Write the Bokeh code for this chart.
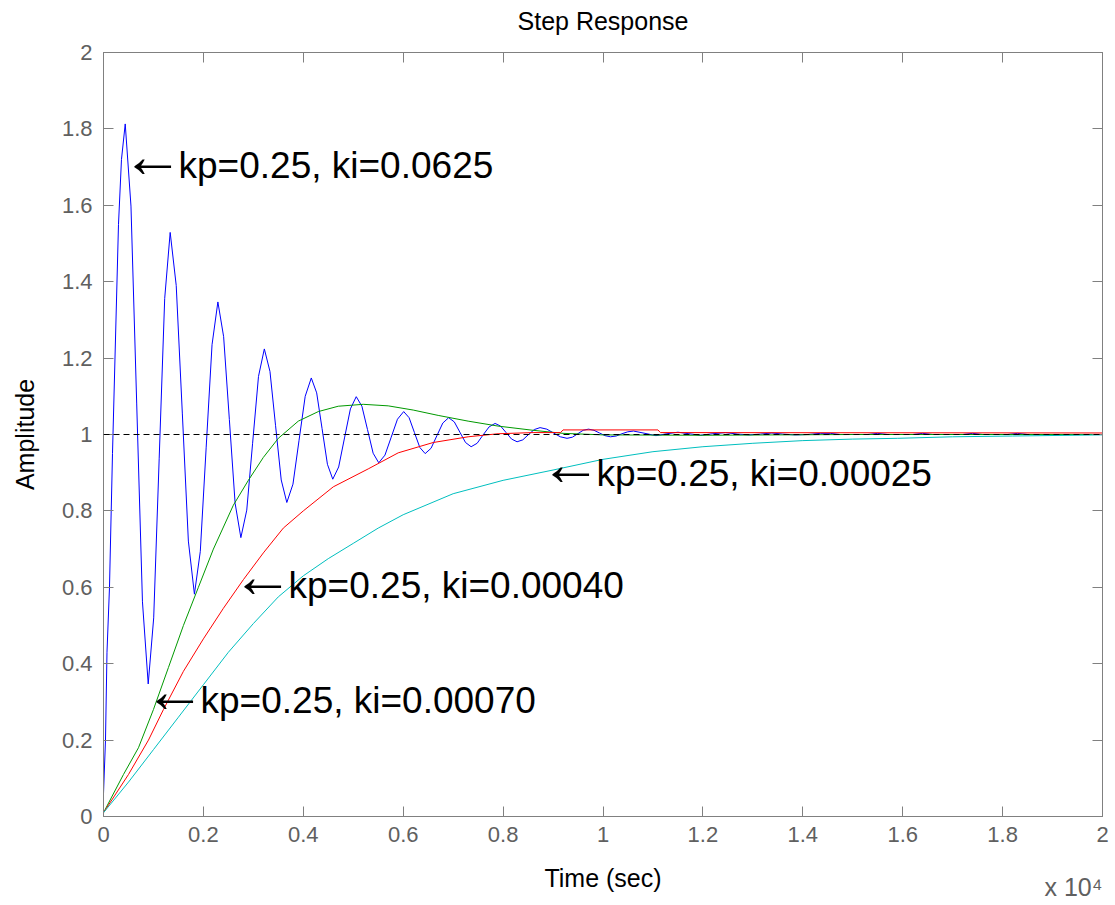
from bokeh.plotting import figure
from bokeh.models import Range1d, FixedTicker, LinearAxis, Span, CustomJSTickFormatter, Title
from bokeh.core.properties import value
from bokeh.embed import file_html
from bokeh.resources import INLINE

# ---- data (time in units of 1e4 s) ----
x_ticks = [0, 0.2, 0.4, 0.6, 0.8, 1.0, 1.2, 1.4, 1.6, 1.8, 2.0]
y_ticks = [0, 0.2, 0.4, 0.6, 0.8, 1.0, 1.2, 1.4, 1.6, 1.8, 2.0]

# kp=0.25, ki=0.0625 (blue)
blue_t = [0.000, 0.004, 0.007, 0.012, 0.018, 0.024, 0.030, 0.036, 0.0435,
          0.055, 0.0665, 0.078, 0.0895,
          0.1005, 0.1115, 0.1225, 0.1335,
          0.1456, 0.1578, 0.1699, 0.182,
          0.1938, 0.2055, 0.2173, 0.229,
          0.2405, 0.252, 0.2635, 0.275,
          0.2868, 0.2985, 0.3103, 0.322,
          0.3333, 0.3445, 0.3558, 0.367,
          0.3793, 0.3915, 0.4038, 0.416,
          0.4268, 0.4375, 0.4483, 0.459,
          0.4708, 0.4825, 0.4943, 0.506,
          0.5173, 0.5285, 0.5398, 0.551,
          0.5635, 0.576, 0.5885, 0.601,
          0.6118, 0.6225, 0.6333, 0.644,
          0.6558, 0.6675, 0.6793, 0.691,
          0.7023, 0.7135, 0.7248, 0.736,
          0.748, 0.760, 0.772, 0.784,
          0.795, 0.806, 0.817, 0.828,
          0.8395, 0.851, 0.8625, 0.874,
          0.8875, 0.901, 0.9145, 0.928,
          0.9388, 0.9495, 0.9603, 0.971,
          0.982, 0.993, 1.004, 1.015,
          1.0265, 1.038, 1.0495, 1.061,
          1.084, 1.106, 1.128, 1.150, 1.172, 1.195, 1.220, 1.245, 1.270, 1.292,
          1.315, 1.338, 1.360, 1.385, 1.41, 1.435, 1.455, 1.475, 1.53, 1.55,
          1.57, 1.62, 1.64, 1.66, 1.72, 1.74, 1.76, 1.81, 1.83, 1.85, 2.0]
blue_v = [0.06, 0.20, 0.43, 0.60, 0.95, 1.25, 1.55, 1.72, 1.813,
          1.598, 1.080, 0.562, 0.347,
          0.520, 0.938, 1.356, 1.529,
          1.390, 1.056, 0.721, 0.582,
          0.694, 0.965, 1.235, 1.347,
          1.256, 1.039, 0.820, 0.730,
          0.802, 0.977, 1.152, 1.224,
          1.165, 1.023, 0.881, 0.822,
          0.870, 0.985, 1.100, 1.148,
          1.109, 1.016, 0.922, 0.883,
          0.915, 0.991, 1.067, 1.099,
          1.074, 1.013, 0.951, 0.926,
          0.946, 0.993, 1.040, 1.060,
          1.044, 1.005, 0.966, 0.950,
          0.964, 0.997, 1.030, 1.044,
          1.033, 1.006, 0.979, 0.968,
          0.977, 0.999, 1.020, 1.029,
          1.022, 1.005, 0.988, 0.981,
          0.986, 1.000, 1.013, 1.018,
          1.014, 1.004, 0.994, 0.990,
          0.993, 1.002, 1.011, 1.014,
          1.011, 1.004, 0.997, 0.994,
          0.996, 1.002, 1.007, 1.009,
          1.003, 0.997, 1.002, 1.006, 1.002, 0.998, 1.002, 1.005, 1.001, 0.999,
          1.001, 1.004, 1.001, 0.999, 1.000, 1.003, 1.003, 1.000, 1.000, 1.003,
          1.000, 1.000, 1.003, 1.000, 1.000, 1.003, 1.000, 1.000, 1.003, 1.000, 1.000]

# kp=0.25, ki=0.00070 (green)
green_t = [0.0, 0.04, 0.07, 0.10, 0.13, 0.16, 0.19, 0.22, 0.26, 0.29,
           0.32, 0.35, 0.39, 0.43, 0.47, 0.52, 0.57, 0.62, 0.67, 0.73,
           0.79, 0.86, 0.92, 1.0, 1.2, 1.5, 2.0]
green_v = [0.01, 0.11, 0.18, 0.28, 0.39, 0.50, 0.60, 0.70, 0.815, 0.88,
           0.94, 0.99, 1.035, 1.06, 1.074, 1.079, 1.075, 1.064, 1.05, 1.035,
           1.022, 1.011, 1.003, 0.999, 0.998, 1.0, 1.0]

# kp=0.25, ki=0.00040 (red)
red_t = [0.0, 0.05, 0.09, 0.12, 0.16, 0.20, 0.24, 0.28, 0.32, 0.36,
         0.40, 0.46, 0.53, 0.59, 0.66, 0.73, 0.79, 0.86, 0.915, 0.92,
         1.11, 1.115, 2.0]
red_v = [0.01, 0.11, 0.20, 0.28, 0.38, 0.465, 0.545, 0.62, 0.69, 0.755,
         0.80, 0.863, 0.91, 0.952, 0.979, 0.994, 1.002, 1.005, 1.005, 1.012,
         1.012, 1.005, 1.004]

# kp=0.25, ki=0.00025 (cyan)
cyan_t = [0.0, 0.05, 0.10, 0.15, 0.20, 0.25, 0.30, 0.35, 0.40, 0.45,
          0.50, 0.55, 0.60, 0.70, 0.80, 0.90, 1.00, 1.10, 1.20, 1.30,
          1.40, 1.50, 1.59, 1.70, 1.82, 2.0]
cyan_v = [0.01, 0.09, 0.175, 0.26, 0.345, 0.43, 0.505, 0.575, 0.63, 0.675,
          0.715, 0.755, 0.79, 0.845, 0.88, 0.907, 0.935, 0.955, 0.968, 0.977,
          0.984, 0.988, 0.990, 0.994, 0.996, 0.999]

# annotations: arrow + text, anchored at the arrow's left end (vertical middle)
ann_text = ["kp=0.25, ki=0.0625", "kp=0.25, ki=0.00025",
            "kp=0.25, ki=0.00040", "kp=0.25, ki=0.00070"]
ann_arrow = ["\u2190", "\u2190", "\u2190", "\u2190"]
ann_x = [0.0361, 0.8731, 0.2563, 0.0801]
ann_y = [1.703, 0.897, 0.604, 0.303]

FONT = "Liberation Sans"
GRAY = "#808080"
LABEL_GRAY = "#606060"

p = figure(width=1115, height=903, x_range=Range1d(0, 2), y_range=Range1d(0, 2),
           output_backend="svg", toolbar_location=None,
           min_border_left=103, min_border_right=13, min_border_top=52, min_border_bottom=87)
p.grid.visible = False
p.outline_line_color = GRAY
p.outline_line_width = 1

fmt = CustomJSTickFormatter(code="return String(Math.round(tick*10)/10);")
blank = CustomJSTickFormatter(code="return '';")


def style(ax, ticks, show_labels=True):
    ax.ticker = FixedTicker(ticks=ticks)
    ax.major_tick_in = 10
    ax.major_tick_out = 0
    ax.minor_tick_line_color = None
    ax.axis_line_color = GRAY
    ax.major_tick_line_color = GRAY
    ax.axis_label_text_font = FONT
    ax.axis_label_text_font_size = "25px"
    ax.axis_label_text_font_style = "normal"
    ax.axis_label_text_color = "black"
    if show_labels:
        ax.formatter = fmt
        ax.major_label_text_font = FONT
        ax.major_label_text_font_size = "22px"
        ax.major_label_text_color = LABEL_GRAY
    else:
        ax.formatter = blank
        ax.major_label_standoff = 0


style(p.xaxis[0], x_ticks)
p.xaxis[0].major_label_standoff = 10
p.xaxis[0].axis_label = "Time (sec)"
p.xaxis[0].axis_label_standoff = 19
style(p.yaxis[0], y_ticks)
p.yaxis[0].major_label_standoff = 11
p.yaxis[0].axis_label = "Amplitude"
p.yaxis[0].axis_label_standoff = 20

# top axis carries the chart title as its label
top = LinearAxis()
style(top, x_ticks, False)
top.axis_label = "Step Response"
top.axis_label_standoff = 18
p.add_layout(top, "above")
right = LinearAxis()
style(right, y_ticks, False)
p.add_layout(right, "right")

p.add_layout(Title(text="x 10\u2074", align="right", vertical_align="top",
                   standoff=-44, offset=0, text_font=FONT, text_font_size="25px",
                   text_font_style="normal", text_color=LABEL_GRAY), "below")

p.line(blue_t, blue_v, line_color="#0000ff", line_width=1)
p.line(green_t, green_v, line_color="#009900", line_width=1)
p.line(red_t, red_v, line_color="#ff0000", line_width=1)
p.line(cyan_t, cyan_v, line_color="#00bfbf", line_width=1)

p.add_layout(Span(location=1, dimension="width", line_color="black",
                  line_dash="6 4", line_width=1))

p.text(x=ann_x, y=ann_y, text=ann_arrow, text_font=value(FONT),
       text_font_size=value("62px"), text_color="black", y_offset=-10,
       text_align="left", text_baseline="middle")
p.text(x=ann_x, y=ann_y, text=ann_text, text_font=value(FONT),
       text_font_size=value("37px"), text_color="black", x_offset=57,
       text_align="left", text_baseline="middle")

open("out.html", "w").write(file_html(p, INLINE))
